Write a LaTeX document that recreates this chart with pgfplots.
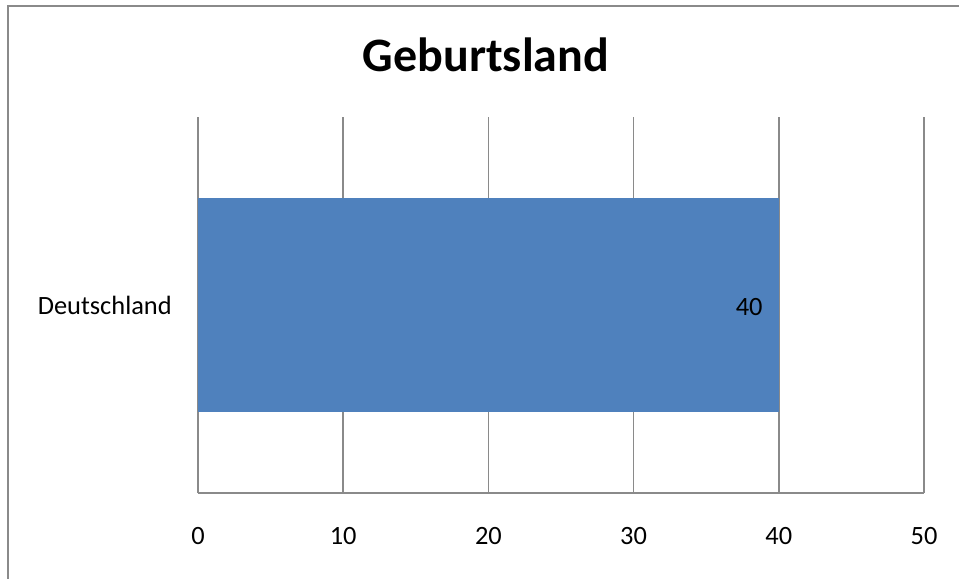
\documentclass[border=0pt]{standalone}
\usepackage{pgfplots}
\pgfplotsset{compat=1.18}
\usepackage{fontspec}
\setmainfont{Carlito}
\definecolor{barblue}{HTML}{4F81BD}
\definecolor{gridgray}{HTML}{8A8A8A}
\begin{document}
\begin{tikzpicture}
\useasboundingbox (0,0) rectangle (719.25pt,-434.25pt);
\draw[gridgray, line width=1.5pt] (5.25pt,-4.5pt) -- (719.25pt,-4.5pt);
\draw[gridgray, line width=1.5pt] (6pt,-4.5pt) -- (6pt,-434.25pt);
\node[font=\fontsize{36}{43}\selectfont\bfseries] at (364.5pt,-41.25pt) {Geburtsland};
\begin{axis}[
  at={(148.5pt,-369.75pt)}, anchor=south west,
  scale only axis, width=544.5pt, height=282pt,
  xbar, bar width=160.5pt,
  xmin=0, xmax=50, ymin=0, ymax=1,
  xtick={0,10,20,30,40,50},
  ytick={0.5}, yticklabels={Deutschland},
  axis x line*=bottom, axis y line*=left,
  x axis line style={gridgray, line width=1.1pt, -},
  y axis line style={draw=none},
  xmajorgrids, grid style={gridgray, line width=1.1pt},
  major tick length=0pt,
  /pgf/number format/assume math mode=true,
  tick label style={font=\fontsize{19.8}{23}\selectfont, text=black},
  xticklabel style={anchor=center, inner sep=0pt, yshift=-32.25pt},
  yticklabel style={inner sep=0pt, xshift=-19.5pt},
  nodes near coords,
  every node near coord/.append style={anchor=east, inner sep=0pt, xshift=-12pt, yshift=-1.5pt, font=\fontsize{19.8}{23}\selectfont, text=black},
]
\addplot[fill=barblue, draw=none] coordinates {(40,0.5)};
\end{axis}
\end{tikzpicture}
\end{document}
